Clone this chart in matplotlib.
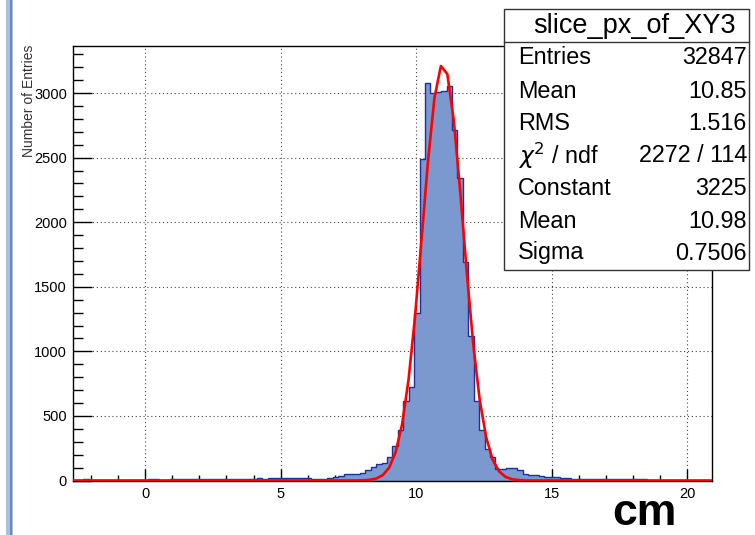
import numpy as np
import matplotlib
matplotlib.use("Agg")
import matplotlib.pyplot as plt
from matplotlib.patches import Rectangle
from matplotlib.lines import Line2D
from matplotlib.ticker import MultipleLocator

# histogram binning and contents
X_MIN = -2.68
BIN_W = 0.2
counts = [
    2, 4, 14, 6, 3, 3, 4, 3, 5, 4,
    5, 4, 3, 6, 10, 8, 7, 5, 8, 10,
    9, 11, 9, 10, 12, 10, 11, 13, 12, 10,
    11, 14, 12, 14, 16, 15, 18, 20, 17, 19,
    22, 18, 16, 17, 15, 14, 15, 16, 30, 32,
    52, 52, 53, 55, 85, 103, 124, 138, 183, 271,
    388, 615, 725, 1297, 2491, 3080, 3002, 3008, 3018, 3052,
    2713, 2344, 1692, 1116, 615, 388, 246, 181, 90, 92,
    98, 95, 78, 52, 42, 39, 38, 30, 26, 24,
    20, 17, 15, 12, 10, 10, 10, 10, 8, 8,
    8, 8, 8, 8, 8, 8, 5, 5, 4, 4,
    4, 3, 3, 3, 2, 0, 2, 0,
]

# gaussian fit parameters from the stat box
FIT_CONST = 3225
FIT_MEAN = 10.98
FIT_SIGMA = 0.7506
FIT_NPX = 100

stat_title = "slice_px_of_XY3"
stat_names = ["Entries", "Mean", "RMS", r"$\chi^{2}$ / ndf", "Constant", "Mean", "Sigma"]
stat_values = ["32847", "10.85", "1.516", "2272 / 114", "3225", "10.98", "0.7506"]

FONT = "Liberation Sans"
W, H = 755, 535

edges = X_MIN + BIN_W * np.arange(len(counts) + 1)


def fx(px):
    return px / W


def fy(py):
    return 1 - py / H


fig = plt.figure(figsize=(W / 100, H / 100), dpi=100)
fig.patch.set_facecolor("white")
ax = fig.add_axes([fx(72.5), fy(480.5), fx(712.3) - fx(72.5), fy(45.7) - fy(480.5)])

ax.set_xlim(edges[0], edges[-1])
ax.set_ylim(0, 3367)

ax.grid(True, which="major", linestyle=(0, (1, 2.5)), color="#444444", linewidth=0.8)
ax.set_axisbelow(True)

ax.stairs(counts, edges, fill=True, color="#7b98cf", zorder=2)
ax.stairs(counts, edges, color="#1e2f9e", linewidth=1.0, zorder=3)

xf = np.linspace(edges[0], edges[-1], FIT_NPX)
yf = FIT_CONST * np.exp(-0.5 * ((xf - FIT_MEAN) / FIT_SIGMA) ** 2)
ax.plot(xf, yf, color="#ff0000", linewidth=1.9, zorder=4)

ax.xaxis.set_major_locator(MultipleLocator(5))
ax.xaxis.set_minor_locator(MultipleLocator(1))
ax.yaxis.set_major_locator(MultipleLocator(500))
ax.yaxis.set_minor_locator(MultipleLocator(100))
ax.tick_params(axis="x", which="major", direction="in", length=9, width=1, pad=5,
               labelsize=10.5, top=False)
ax.tick_params(axis="x", which="minor", direction="in", length=4.3, width=1, top=False)
ax.tick_params(axis="y", which="major", direction="in", length=13.7, width=1, pad=4,
               labelsize=10.5, right=False)
ax.tick_params(axis="y", which="minor", direction="in", length=7.2, width=1, right=False)
for lab in ax.get_xticklabels() + ax.get_yticklabels():
    lab.set_fontfamily(FONT)
for s in ax.spines.values():
    s.set_linewidth(1.0)
    s.set_color("black")

# y title, ROOT style at the top of the axis
fig.text(fx(29), fy(45), "Number of Entries", rotation=90, ha="center", va="top",
         fontsize=10, family=FONT, color="#333333")
# x title
fig.text(fx(644), fy(525), "cm", ha="center", va="baseline", fontsize=32,
         fontweight="bold", family=FONT)

# stat box
bx0, bx1, by0, by1, bsep = 504, 749, 9.5, 269.5, 41.5
fig.patches.append(Rectangle((fx(bx0), fy(by1)), fx(bx1) - fx(bx0), fy(by0) - fy(by1),
                             transform=fig.transFigure, facecolor="white",
                             edgecolor="#333333", linewidth=1.0, zorder=10))
fig.lines.append(Line2D([fx(bx0), fx(bx1)], [fy(bsep), fy(bsep)], transform=fig.transFigure,
                        color="#333333", linewidth=1.0, zorder=11))
fig.text(fx(634), fy(26), stat_title, ha="center", va="center",
         fontsize=19.5, family=FONT, zorder=12)
row_y = [57.5, 91, 123.5, 156, 188.5, 221, 253]
for name, val, ry in zip(stat_names, stat_values, row_y):
    fig.text(fx(518), fy(ry), name, ha="left", va="center", fontsize=16.8,
             family=FONT, zorder=12)
    fig.text(fx(747), fy(ry), val, ha="right", va="center", fontsize=16.8,
             family=FONT, zorder=12)

# window border strip on the left edge
fig.patches.append(Rectangle((fx(6), 0), fx(7), 1, transform=fig.transFigure,
                             facecolor="#a9c1de", edgecolor="none", zorder=1))
fig.lines.append(Line2D([fx(10.5), fx(10.5)], [0, 1], transform=fig.transFigure,
                        color="#5d7fae", linewidth=1.2, zorder=2))

fig.savefig("out.png", dpi=100)
